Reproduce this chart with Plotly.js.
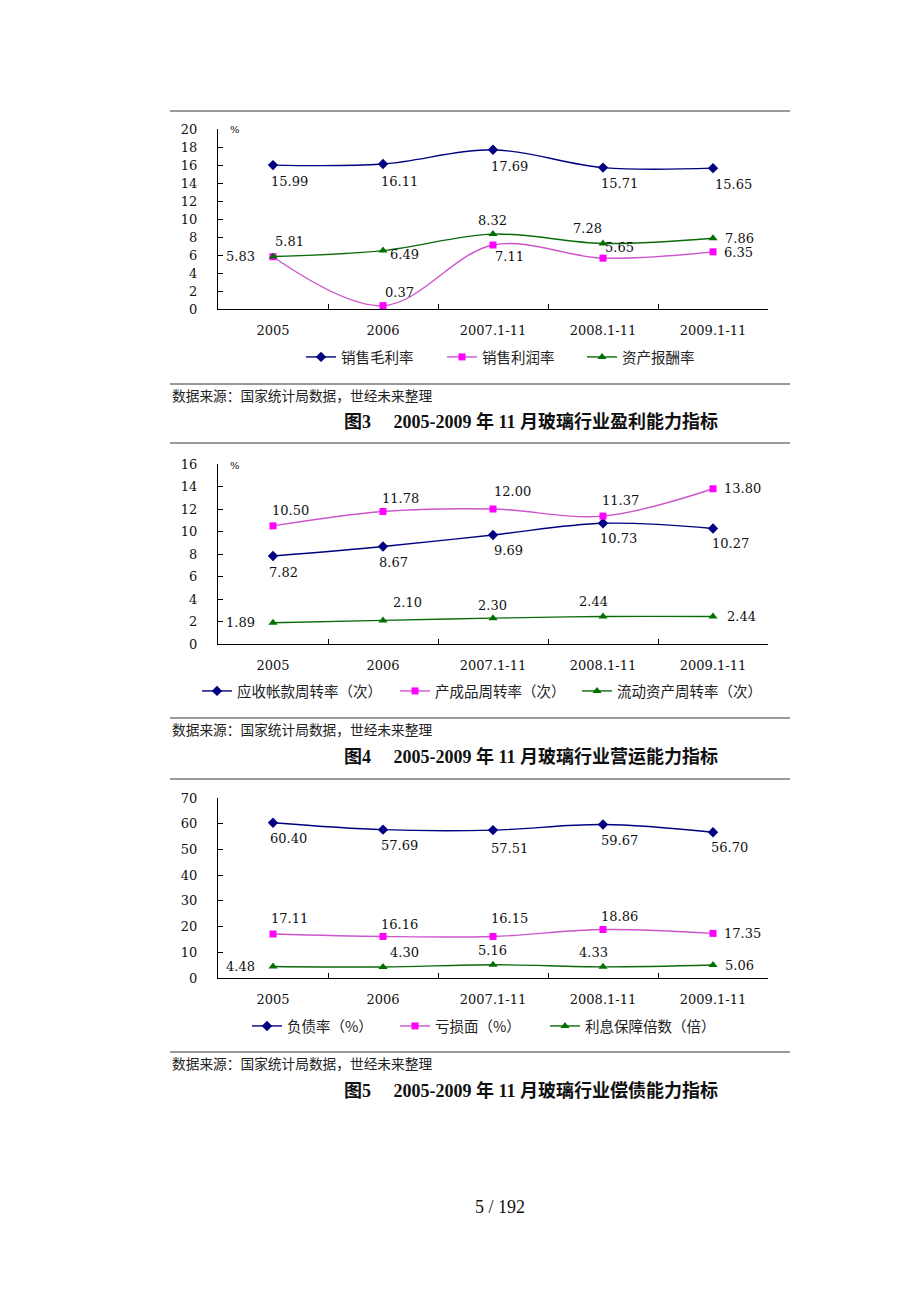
<!DOCTYPE html>
<html><head><meta charset="utf-8">
<script src="https://cdn.plot.ly/plotly-3.0.1.min.js"></script>
<style>html,body{margin:0;padding:0;background:#fff}</style>
</head><body><div id="chart" style="width:920px;height:1302px"></div>
<script>
// ---------- data ----------
const categories = ['2005', '2006', '2007.1-11', '2008.1-11', '2009.1-11'];

// 图3 盈利能力
const names3 = ['销售毛利率', '销售利润率', '资产报酬率'];
const grossMargin = [15.99, 16.11, 17.69, 15.71, 15.65];
const profitMargin = [5.81, 0.37, 7.11, 5.65, 6.35];
const assetReturn = [5.83, 6.49, 8.32, 7.28, 7.86];

// 图4 营运能力
const names4 = ['应收帐款周转率（次）', '产成品周转率（次）', '流动资产周转率（次）'];
const receivableTurnover = [7.82, 8.67, 9.69, 10.73, 10.27];
const finishedGoodsTurnover = [10.50, 11.78, 12.00, 11.37, 13.80];
const currentAssetTurnover = [1.89, 2.10, 2.30, 2.44, 2.44];

// 图5 偿债能力
const names5 = ['负债率（%）', '亏损面（%）', '利息保障倍数（倍）'];
const debtRatio = [60.40, 57.69, 57.51, 59.67, 56.70];
const lossRatio = [17.11, 16.16, 16.15, 18.86, 17.35];
const interestCoverage = [4.48, 4.30, 5.16, 4.33, 5.06];

const figTitles = ['图3', '图4', '图5'];
const titleTexts = ['2005-2009 年 11 月玻璃行业盈利能力指标', '2005-2009 年 11 月玻璃行业营运能力指标', '2005-2009 年 11 月玻璃行业偿债能力指标'];
const sourceText = '数据来源：国家统计局数据，世经未来整理';
const pageText = '5 / 192';

// ---------- label placement (pixel offsets: [dx, dy, anchor]) ----------
const off3 = [
  [[-3,16],[-3,17],[-3,17],[-3,16],[1,16]],
  [[1,-15],[1,-13],[1,11],[1,-11],[10,1]],
  [[-17,0,'r'],[6,4],[-16,-14],[-31,-15],[11,0]]
];
const off4 = [
  [[-5,16],[-5,16],[0,16],[-4,15],[-2,15]],
  [[-2,-15],[-2,-13],[0,-17],[-2,-16],[10,0]],
  [[-17,0,'r'],[9,-18],[-16,-13],[-25,-15],[13,0]]
];
const off5 = [
  [[-4,16],[-3,16],[-3,18],[-3,16],[-3,15]],
  [[-3,-16],[-3,-12],[-3,-18],[-3,-13],[10,0]],
  [[-17,0,'r'],[6,-14],[-16,-14],[-25,-14],[11,1]]
];

// ---------- layout helpers ----------
const W = 920, H = 1302;
const X = p => p / W;
const Y = p => 1 - p / H;

const colors = ['#000080', '#FF00FF', '#007000'];
const lineColors = ['#000080', '#CC55CC', '#0B6B0B'];
const symbols = ['diamond', 'square', 'triangle-up'];
const msizes = [8, 7, 8];
const numFont = {family: 'DejaVu Serif', size: 13, color: '#111'};
const cjkFont = 'Noto Sans CJK SC';

const charts = [
  {series: [grossMargin, profitMargin, assetReturn], names: names3, range: [0, 20], dtick: 2,
   top: 129, bottom: 309, pct: true, offs: off3, legendY: 357, legendX: 306, lw: [96, 95, 80],
   rules: [111, 384], srcY: 395, titleY: 422},
  {series: [receivableTurnover, finishedGoodsTurnover, currentAssetTurnover], names: names4, range: [0, 16], dtick: 2,
   top: 464, bottom: 644, pct: true, offs: off4, legendY: 691, legendX: 202, lw: [153, 137, 145],
   rules: [443, 718], srcY: 729, titleY: 756},
  {series: [debtRatio, lossRatio, interestCoverage], names: names5, range: [0, 70], dtick: 10,
   top: 798, bottom: 978, pct: false, offs: off5, legendY: 1026, legendX: 252, lw: [103, 105, 133],
   rules: [779, 1052], srcY: 1063, titleY: 1090}
];

const traces = [];
const annotations = [];
const shapes = [];
const layout = {
  width: W, height: H,
  margin: {l: 0, r: 0, t: 0, b: 0},
  paper_bgcolor: '#fff', plot_bgcolor: '#fff',
  showlegend: true,
  annotations: annotations, shapes: shapes
};

charts.forEach((c, k) => {
  const sfx = k === 0 ? '' : String(k + 1);
  const xa = 'x' + sfx, ya = 'y' + sfx;
  const legName = 'legend' + sfx;

  layout['xaxis' + sfx] = {
    domain: [X(218), X(768)], anchor: ya, type: 'category',
    categoryorder: 'array', categoryarray: categories,
    range: [-0.5, categories.length - 0.5], autorange: false,
    tickson: 'boundaries', ticks: 'inside', ticklen: 5, tickcolor: '#000', tickwidth: 1,
    showline: true, linecolor: '#000', linewidth: 1,
    showgrid: false, zeroline: false, tickfont: numFont, ticklabelstandoff: 9,
    fixedrange: true
  };
  layout['yaxis' + sfx] = {
    domain: [Y(c.bottom), Y(c.top)], anchor: xa, range: c.range, autorange: false,
    tick0: 0, dtick: c.dtick, ticks: 'inside', ticklen: 5, tickcolor: '#000', tickwidth: 1,
    showline: true, linecolor: '#000', linewidth: 1,
    showgrid: false, zeroline: false, tickfont: numFont, ticklabelstandoff: 17,
    fixedrange: true
  };
  layout[legName] = {
    orientation: 'h', x: X(c.legendX - 5), xanchor: 'left', y: Y(c.legendY), yanchor: 'middle',
    font: {family: cjkFont, size: 14.5, color: '#222'}, bgcolor: 'rgba(0,0,0,0)',
    itemwidth: 30, traceorder: 'normal', tracegroupgap: 0
  };

  c.series.forEach((vals, s) => {
    traces.push({
      type: 'scatter', mode: 'lines+markers', name: c.names[s],
      x: categories, y: vals, xaxis: xa, yaxis: ya, legend: legName, legendwidth: c.lw[s],
      line: {color: lineColors[s], width: 1.4, shape: 'spline', smoothing: 1},
      marker: {symbol: symbols[s], size: msizes[s], color: colors[s]},
      hoverinfo: 'skip', cliponaxis: false
    });
    vals.forEach((v, i) => {
      const o = c.offs[s][i];
      const right = o[2] === 'r';
      annotations.push({
        xref: xa, yref: ya, x: i, y: v, text: v.toFixed(2), showarrow: false,
        xanchor: right ? 'right' : 'left', yanchor: 'middle',
        xshift: o[0], yshift: -o[1], font: numFont, borderpad: 0
      });
    });
  });

  if (c.pct) {
    annotations.push({xref: 'paper', yref: 'paper', x: X(228), y: Y(c.top + 1), text: '%', showarrow: false,
      xanchor: 'left', yanchor: 'middle', font: {family: 'DejaVu Serif', size: 10, color: '#111'}});
  }
  c.rules.forEach(r => shapes.push({type: 'line', xref: 'paper', yref: 'paper',
    x0: X(170), x1: X(790), y0: Y(r), y1: Y(r), line: {color: '#333', width: 1}}));
  annotations.push({xref: 'paper', yref: 'paper', x: X(170), y: Y(c.srcY), text: sourceText, showarrow: false,
    xanchor: 'left', yanchor: 'middle', font: {family: cjkFont, size: 13.7, color: '#222'}});
  annotations.push({xref: 'paper', yref: 'paper', x: X(531), y: Y(c.titleY),
    text: '<b>' + figTitles[k] + '\u00a0\u00a0\u00a0\u00a0\u00a0' + titleTexts[k] + '</b>', showarrow: false,
    xanchor: 'center', yanchor: 'middle', font: {family: 'Liberation Serif, Noto Sans CJK SC', size: 18, color: '#111'}});
});

annotations.push({xref: 'paper', yref: 'paper', x: X(500), y: Y(1207), text: pageText, showarrow: false,
  xanchor: 'center', yanchor: 'middle', font: {family: 'Liberation Serif', size: 18, color: '#111'}});

Plotly.newPlot('chart', traces, layout, {staticPlot: true, displayModeBar: false});
</script>
</body></html>
